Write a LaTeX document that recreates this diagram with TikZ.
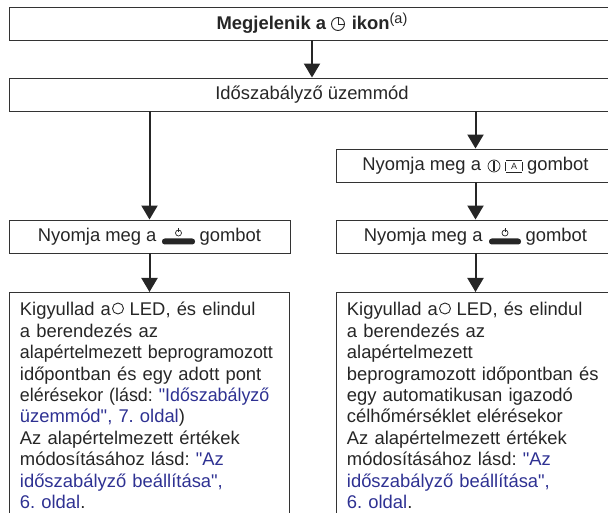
\documentclass[tikz,border=0pt]{standalone}
\usepackage{xcolor,graphicx}
\usepackage{fontspec}
\setmainfont{Liberation Sans}[Ligatures=TeXOff]
\usepackage{tikz}
\usetikzlibrary{arrows.meta,positioning}
\definecolor{linkblue}{RGB}{46,49,146}
\newcommand{\lnk}[1]{\textcolor{linkblue}{#1}}
\frenchspacing

\begin{document}
\begin{tikzpicture}
[x=1pt,y=-1pt,
flow/.style={-{Triangle[length=14pt,width=16pt]},line width=2pt,black!85},
main box/.style={draw=black!80,line width=0.9pt,minimum height=33pt,inner sep=0pt,
  font=\fontsize{18.4}{21}\selectfont,text=black!85},
long box/.style={draw=black!80,line width=0.9pt,anchor=north west,align=left,
  inner xsep=10.5pt,inner ysep=0pt,minimum height=226pt,
  font=\fontsize{18.4}{21.4}\selectfont,text=black!85},
icon/.style={black!85,line width=0.7pt}]

  \useasboundingbox (0,0) rectangle (608,513);

  \node[main box,minimum width=606pt] (top) at (312,23.5)
    {\textbf{Megjelenik a \hspace{15.5pt} ikon}\raisebox{6pt}{\fontsize{14.5}{14.5}\selectfont (a)}};
  \node[main box,minimum width=606pt] (mode) at (312,94.5) {Időszabályző üzemmód};
  \node[main box,minimum width=281pt] (leftbtn) at (149.5,236.5) {Nyomja meg a \hspace{33pt} gombot};
  \node[main box,minimum width=279pt] (rightmode) at (475.5,165.5) {Nyomja meg a \hspace{36pt} gombot};
  \node[main box,minimum width=279pt] (rightbtn) at (475.5,236.5) {Nyomja meg a \hspace{33pt} gombot};

  \node[long box,text width=259pt] (lefttext) at (9,292) {Kigyullad a \hspace{6.5pt} LED, és elindul\\
    a berendezés az\\
    \scalebox{.97}[1]{alapértelmezett beprogramozott}\\
    időpontban és egy adott pont\\
    \scalebox{.97}[1]{elérésekor (lásd: \lnk{"Időszabályző}}\\
    \lnk{üzemmód", 7. oldal})\\
    Az alapértelmezett értékek\\
    módosításához lásd: \lnk{"Az}\\
    \lnk{időszabályző beállítása",}\\
    \lnk{6. oldal}.};
  \node[long box,text width=258pt] (righttext) at (336,292) {Kigyullad a \hspace{6.5pt} LED, és elindul\\
    a berendezés az\\
    alapértelmezett\\
    beprogramozott időpontban és\\
    egy automatikusan igazodó\\
    célhőmérséklet elérésekor\\
    Az alapértelmezett értékek\\
    módosításához lásd: \lnk{"Az}\\
    \lnk{időszabályző beállítása",}\\
    \lnk{6. oldal}.};

  \draw[flow] (top) -- (mode);
  \draw[flow] (leftbtn |- mode.south) -- (leftbtn);
  \draw[flow] (rightmode |- mode.south) -- (rightmode);
  \draw[flow] (rightmode) -- (rightbtn);
  \draw[flow] (leftbtn) -- (leftbtn |- lefttext.north);
  \draw[flow] (rightbtn) -- (rightbtn |- righttext.north);

  % clock icon
  \draw[icon,line width=0.9pt] (338,24) circle (6.5pt);
  \draw[icon,line width=0.9pt] (338,18.5) -- (338,24) -- (344,24);
  % button icons
  \fill[black!85,rounded corners=2.8pt] (162,238.5) rectangle (195,244.5);
  \draw[icon] (178.5,233) circle (3pt);
  \draw[icon] (178.5,228.5) -- (178.5,232.5);
  \fill[black!85,rounded corners=2.8pt] (489,238.5) rectangle (521,244.5);
  \draw[icon] (505,233) circle (3pt);
  \draw[icon] (505,228.5) -- (505,232.5);
  \draw[icon] (494,166) circle (6pt);
  \fill[black!85] (492.8,161) rectangle (495.2,171);
  \draw[icon] (506,160.5) -- (522,160.5) (506,172.5) -- (522,172.5) (505,162) -- (505,171) (522.5,162) -- (522.5,171);
  \node[font=\fontsize{9}{9}\selectfont,inner sep=0pt,text=black!85] (autoA) at (514,166.5) {A};
  % led icons
  \draw[icon,line width=0.9pt] (118,308.5) circle (5.5pt);
  \draw[icon,line width=0.9pt] (445,308.5) circle (5.5pt);

\end{tikzpicture}
\end{document}
